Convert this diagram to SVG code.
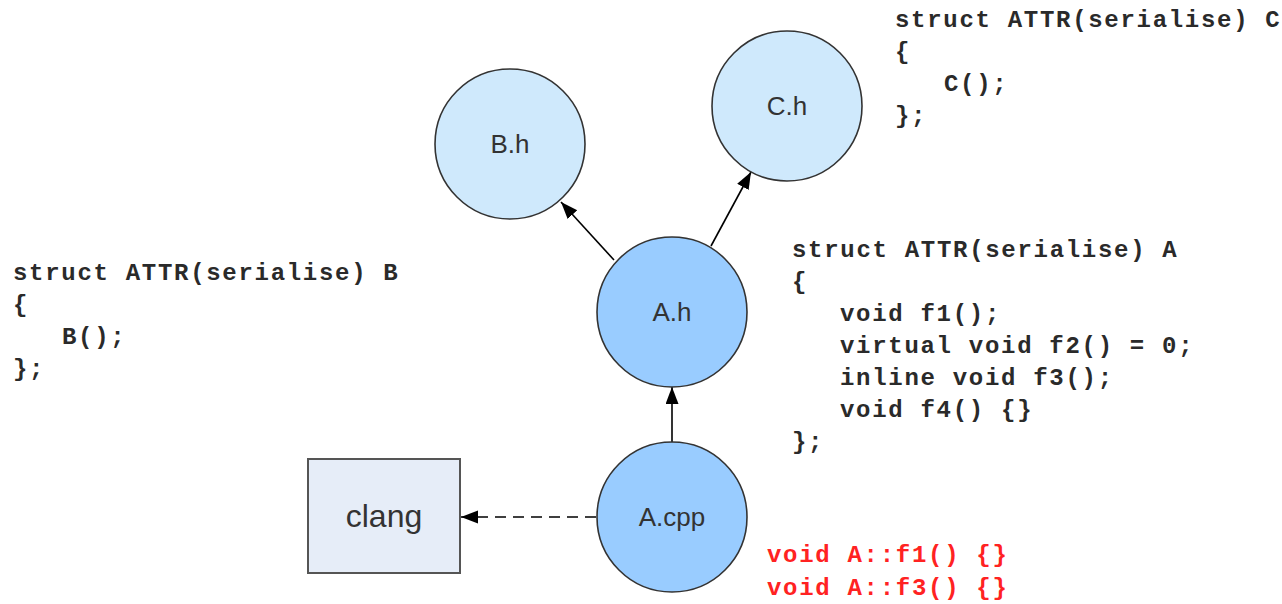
<svg xmlns="http://www.w3.org/2000/svg" width="1282" height="604" viewBox="0 0 1282 604">
<defs>
<marker id="arr" markerWidth="18" markerHeight="14" refX="17" refY="6.5" orient="auto" markerUnits="userSpaceOnUse">
<path d="M0,0 L17,6.5 L0,13 z" fill="#000"/>
</marker>
<style>
.light{fill:#cfe9fc;stroke:#333;stroke-width:1.6}
.dark{fill:#99ccff;stroke:#333;stroke-width:1.6}
.lbl{font-family:"Liberation Sans",Arial,sans-serif;font-size:26px;fill:#333;text-anchor:middle}
.code{font-family:"Liberation Mono","Courier New",monospace;font-size:24px;font-weight:bold;fill:#2a2a2a;letter-spacing:1.7px}
.red{fill:#f22}
.edge{stroke:#000;stroke-width:1.6;fill:none;marker-end:url(#arr)}
</style>
</defs>
<rect width="1282" height="604" fill="#fff"/>
<g id="connectors">
<line class="edge" x1="614" y1="260" x2="561" y2="202"/>
<line class="edge" x1="711" y1="246" x2="751" y2="172"/>
<line class="edge" x1="672" y1="442" x2="672" y2="387"/>
<line class="edge" x1="596" y1="517" x2="461" y2="517" stroke-dasharray="11,7" stroke-width="1.8"/>
</g>
<g id="node-Bh">
<circle class="light" cx="510" cy="144" r="75"/>
<text class="lbl" x="510" y="153">B.h</text>
</g>
<g id="node-Ch">
<circle class="light" cx="787" cy="106" r="75"/>
<text class="lbl" x="787" y="115">C.h</text>
</g>
<g id="node-Ah">
<circle class="dark" cx="672" cy="312" r="75"/>
<text class="lbl" x="672" y="321">A.h</text>
</g>
<g id="node-Acpp">
<circle class="dark" cx="672" cy="517" r="75"/>
<text class="lbl" x="672" y="526">A.cpp</text>
</g>
<g id="node-clang">
<rect x="308" y="459" width="152" height="114" fill="#e6edf8" stroke="#555" stroke-width="2"/>
<text class="lbl" x="384" y="527" style="font-size:32px">clang</text>
</g>
<g id="code-C" class="code">
<text x="895" y="27">struct ATTR(serialise) C</text>
<text x="895" y="59">{</text>
<text x="944" y="91">C();</text>
<text x="895" y="123">};</text>
</g>
<g id="code-B" class="code">
<text x="13" y="280">struct ATTR(serialise) B</text>
<text x="13" y="312">{</text>
<text x="62" y="344">B();</text>
<text x="13" y="376">};</text>
</g>
<g id="code-A" class="code">
<text x="792" y="257">struct ATTR(serialise) A</text>
<text x="792" y="289">{</text>
<text x="840" y="321">void f1();</text>
<text x="840" y="353">virtual void f2() = 0;</text>
<text x="840" y="385">inline void f3();</text>
<text x="840" y="417">void f4() {}</text>
<text x="792" y="449">};</text>
</g>
<g id="code-Acpp" class="code red">
<text x="767" y="562">void A::f1() {}</text>
<text x="767" y="595">void A::f3() {}</text>
</g>
</svg>
